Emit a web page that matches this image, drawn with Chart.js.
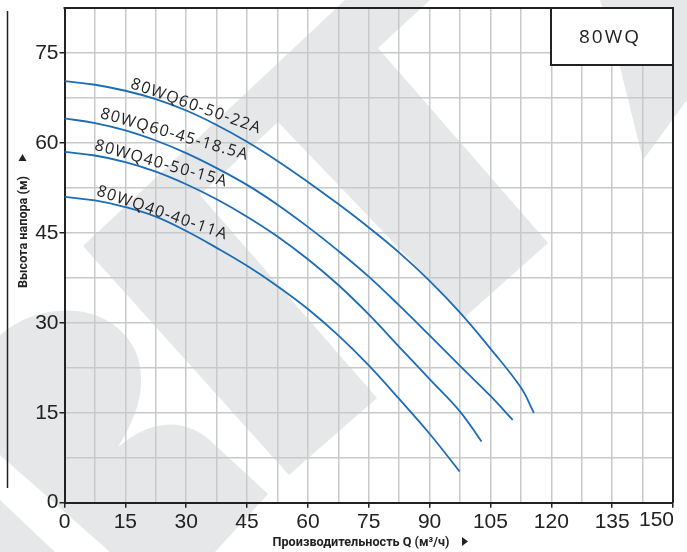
<!DOCTYPE html>
<html>
<head>
<meta charset="utf-8">
<script src="https://cdn.jsdelivr.net/npm/chart.js@4.4.1/dist/chart.umd.min.js"></script>
<style>
	html, body { margin: 0; padding: 0; background: #fff; }
</style>
</head>
<body>
<canvas id="mycanvas" width="687" height="552"></canvas>
<script>
// pump curves, Q (m3/h) -> H (m)
var q22 = [0, 7.5, 15, 22.5, 30, 37.5, 45, 52.5, 60, 67.5, 75, 82.5, 90, 97.5, 105, 112.5, 115.7];
var h22 = [70.3, 69.7, 68.7, 67.3, 65.4, 63.0, 60.2, 57.0, 53.5, 49.8, 45.9, 41.7, 37.0, 31.7, 25.7, 19.2, 15.0];

var q185 = [0, 7.5, 15, 22.5, 30, 37.5, 45, 52.5, 60, 67.5, 75, 82.5, 90, 97.5, 105, 110.5];
var h185 = [64.1, 63.3, 62.1, 60.4, 58.3, 55.8, 53.0, 49.7, 46.0, 42.0, 37.7, 32.9, 27.9, 22.8, 17.8, 13.8];

var q15 = [0, 7.5, 15, 22.5, 30, 37.5, 45, 52.5, 60, 67.5, 75, 82.5, 90, 97.5, 102.8];
var h15 = [58.5, 57.9, 56.8, 55.2, 53.1, 50.6, 47.7, 44.4, 40.6, 36.3, 31.4, 26.0, 20.6, 15.2, 10.2];

var q11 = [0, 7.5, 15, 22.5, 30, 37.5, 45, 52.5, 60, 67.5, 75, 82.5, 90, 97.4];
var h11 = [51.0, 50.4, 49.3, 47.7, 45.3, 42.5, 39.5, 36.1, 32.3, 27.9, 22.9, 17.3, 11.5, 5.2];

var names = ['80WQ60-50-22A', '80WQ60-45-18.5A', '80WQ40-50-15A', '80WQ40-40-11A'];
// where each name starts (Q, H) and its slant in degrees
var nameQ = [16.1, 8.6, 7.2, 7.7];
var nameH = [69.2, 64.2, 58.9, 51.3];
var nameAngle = [19.5, 16, 15.7, 19];

var xTitle = 'Производительность Q (м³/ч)';
var yTitle = 'Высота напора (м)';
var boxTitle = '80WQ';

function pts(qs, hs) {
	var out = [];
	for (var i in qs) {
		out.push({x: qs[i], y: hs[i]});
	}
	return out;
}

function isMajor(v) {
	return Math.abs(v % 15) < 1e-6;
}

function poly(ctx, p) {
	ctx.beginPath();
	ctx.moveTo(p[0][0], p[0][1]);
	for (var i = 1; i < p.length; i++) ctx.lineTo(p[i][0], p[i][1]);
	ctx.closePath();
	ctx.fill();
}

var decor = {
	id: 'decor',
	beforeDraw: function(chart) {
		var ctx = chart.ctx;
		ctx.save();
		ctx.fillStyle = '#fff';
		ctx.fillRect(0, 0, chart.width, chart.height);
		// faded logo behind the grid
		ctx.fillStyle = '#e6e7e9';
		poly(ctx, [[83,246],[345,0],[430,0],[378,48],[548,243],[465,317],[278,122],[200,195],[377,398],[289,475]]);
		poly(ctx, [[600,0],[687,0],[687,100],[643,160],[620,67]]);
		ctx.beginPath();
		ctx.moveTo(0, 335);
		ctx.bezierCurveTo(40, 300, 110, 300, 135, 350);
		ctx.bezierCurveTo(150, 385, 135, 420, 118, 447);
		ctx.bezierCurveTo(150, 420, 185, 415, 215, 445);
		ctx.lineTo(268, 494);
		ctx.lineTo(215, 552);
		ctx.lineTo(110, 552);
		ctx.lineTo(0, 455);
		ctx.closePath();
		ctx.fill();
		poly(ctx, [[0,500],[55,552],[0,552]]);
		ctx.restore();
	},
	afterDatasetsDraw: function(chart) {
		var ctx = chart.ctx;
		var sx = chart.scales.x, sy = chart.scales.y;
		ctx.save();
		ctx.fillStyle = '#222';
		ctx.font = '16px "Open Sans"';
		ctx.letterSpacing = '1.3px';
		ctx.textBaseline = 'alphabetic';
		for (var i in names) {
			ctx.save();
			ctx.translate(sx.getPixelForValue(nameQ[i]), sy.getPixelForValue(nameH[i]));
			ctx.rotate(nameAngle[i] * Math.PI / 180);
			ctx.fillText(names[i], 0, 0);
			ctx.restore();
		}
		ctx.restore();
	},
	afterDraw: function(chart) {
		var ctx = chart.ctx;
		var a = chart.chartArea;
		var sx = chart.scales.x;
		ctx.save();
		// frame top and right
		ctx.strokeStyle = '#222';
		ctx.lineWidth = 2;
		ctx.beginPath();
		ctx.moveTo(a.left - 1, a.top);
		ctx.lineTo(a.right, a.top);
		ctx.lineTo(a.right, a.bottom);
		ctx.stroke();

		// series box
		ctx.fillStyle = '#fff';
		ctx.fillRect(a.right - 122, a.top, 122, 57);
		ctx.strokeRect(a.right - 122, a.top, 122, 57);
		ctx.fillStyle = '#222';
		ctx.font = '19px "Open Sans"';
		ctx.letterSpacing = '2px';
		ctx.textAlign = 'center';
		ctx.textBaseline = 'middle';
		ctx.fillText(boxTitle, a.right - 63, a.top + 30);
		ctx.letterSpacing = '0px';

		// last x label kept inside the page
		ctx.font = '21px "Liberation Sans", Arial';
		ctx.textAlign = 'right';
		ctx.textBaseline = 'top';
		ctx.fillText('150', sx.getPixelForValue(150) + 1, a.bottom + 7);

		// axis titles
		ctx.font = 'bold 11.5px Roboto';
		var w = ctx.measureText(xTitle).width;
		ctx.font = 'bold ' + (11.5 * 177 / w).toFixed(2) + 'px Roboto';
		ctx.textAlign = 'center';
		ctx.textBaseline = 'alphabetic';
		ctx.fillText(xTitle, 361, 546);
		ctx.beginPath();
		ctx.moveTo(462, 537);
		ctx.lineTo(468, 541.5);
		ctx.lineTo(462, 546);
		ctx.closePath();
		ctx.fill();

		ctx.save();
		ctx.translate(27, 232);
		ctx.rotate(-Math.PI / 2);
		ctx.fillText(yTitle, 0, 0);
		ctx.restore();
		ctx.beginPath();
		ctx.moveTo(18.5, 161);
		ctx.lineTo(22.5, 154);
		ctx.lineTo(26.5, 161);
		ctx.closePath();
		ctx.fill();

		// rule left of the title
		ctx.lineWidth = 1.5;
		ctx.beginPath();
		ctx.moveTo(7.5, 11);
		ctx.lineTo(7.5, 488);
		ctx.stroke();
		ctx.restore();
	}
};

var curveStyle = {
	borderColor: '#1c6db5',
	borderWidth: 1.8,
	pointRadius: 0,
	showLine: true,
	fill: false,
	tension: 0.4
};

var chartdata = {
	datasets: [
		Object.assign({label: names[0], data: pts(q22, h22)}, curveStyle),
		Object.assign({label: names[1], data: pts(q185, h185)}, curveStyle),
		Object.assign({label: names[2], data: pts(q15, h15)}, curveStyle),
		Object.assign({label: names[3], data: pts(q11, h11)}, curveStyle)
	]
};

var gridOpts = {
	color: '#c8c9ca',
	lineWidth: 1.5,
	tickLength: 5,
	tickWidth: 1.5,
	tickColor: function(c) {
		return c.tick && isMajor(c.tick.value) ? '#222' : 'rgba(0,0,0,0)';
	}
};

var ctx = document.getElementById('mycanvas');

var pumpChart = new Chart(ctx, {
	type: 'scatter',
	data: chartdata,
	options: {
		responsive: false,
		animation: false,
		layout: { padding: { left: 0, top: 8, right: 14, bottom: 0 } },
		plugins: {
			legend: { display: false },
			tooltip: { enabled: false }
		},
		scales: {
			x: {
				type: 'linear',
				min: 0,
				max: 150,
				afterFit: function(s) {
					s.height = 49.3;
					s.paddingLeft = 0;
					s.paddingRight = 0;
				},
				border: { color: '#222', width: 2 },
				grid: gridOpts,
				ticks: {
					stepSize: 7.5,
					autoSkip: false,
					maxRotation: 0,
					padding: 2,
					color: '#222',
					font: { family: '"Liberation Sans", Arial', size: 21 },
					callback: function(v) {
						return isMajor(v) && v < 150 ? String(v) : '';
					}
				}
			},
			y: {
				type: 'linear',
				min: 0,
				max: 82.5,
				afterFit: function(s) {
					s.width = 64.5;
					s.paddingTop = 0;
					s.paddingBottom = 0;
				},
				border: { color: '#222', width: 2 },
				grid: gridOpts,
				ticks: {
					stepSize: 7.5,
					autoSkip: false,
					padding: 1,
					color: '#222',
					font: { family: '"Liberation Sans", Arial', size: 21 },
					callback: function(v) {
						return isMajor(v) ? String(v) : '';
					}
				}
			}
		}
	},
	plugins: [decor]
});
</script>
</body>
</html>
